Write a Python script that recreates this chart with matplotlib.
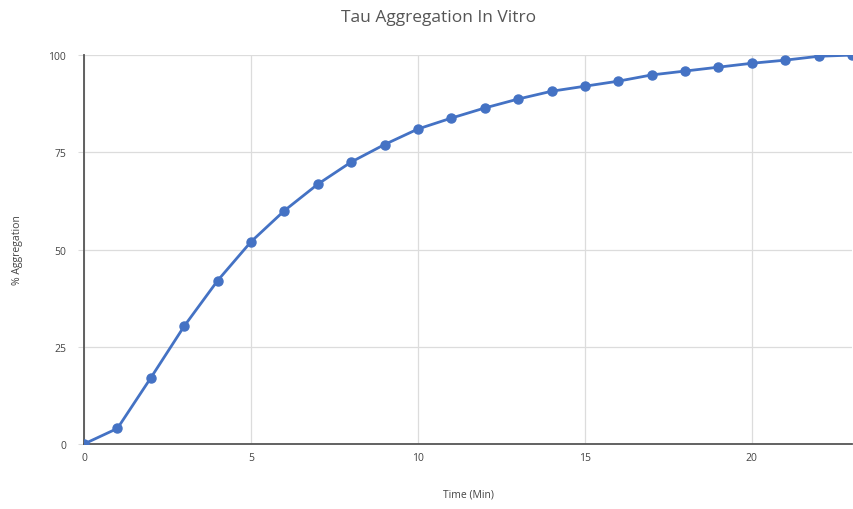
import matplotlib
matplotlib.use('Agg')
from matplotlib import pyplot as plt

time_min = list(range(0, 24))
aggregation = [0, 4, 17, 30.3, 42, 52, 60, 66.8, 72.5, 77, 81, 83.8, 86.4, 88.7,
               90.7, 92, 93.3, 94.9, 95.9, 96.9, 97.9, 98.7, 99.7, 100]
x_ticks = [0, 5, 10, 15, 20]
y_ticks = [0, 25, 50, 75, 100]

plt.rcParams['font.family'] = ['Open Sans', 'DejaVu Sans']

fig = plt.figure(figsize=(8.54, 5.10), dpi=100)
ax = fig.add_axes([0.0984, 0.1275, 0.8993, 0.7625])

ax.plot(time_min, aggregation, color='#4472c4', lw=2.0, marker='o', ms=6.5, zorder=3)

ax.set_xlim(0, 23)
ax.set_ylim(0, 100)
ax.set_xticks(x_ticks)
ax.set_yticks(y_ticks)
ax.grid(True, color='#dcdcdc', lw=0.9)
ax.set_axisbelow(True)

for s in ['top', 'right']:
    ax.spines[s].set_visible(False)
for s in ['left', 'bottom']:
    ax.spines[s].set_color('#555555')
    ax.spines[s].set_linewidth(1.3)

ax.tick_params(axis='both', labelsize=7.5, colors='#444444', length=4, width=0.8)
ax.tick_params(axis='x', length=0, pad=6)
ax.tick_params(axis='y', color='#dcdcdc', pad=9)

fig.text(0.513, 0.965, 'Tau Aggregation In Vitro', fontsize=12.5, color='#555555',
         ha='center', va='center')
fig.text(0.548, 0.029, 'Time (Min)', fontsize=7.5, color='#444444',
         ha='center', va='center')
fig.text(0.021, 0.51, '% Aggregation', fontsize=7.5, color='#444444',
         ha='center', va='center', rotation=90)

fig.savefig('out.png', dpi=100)
